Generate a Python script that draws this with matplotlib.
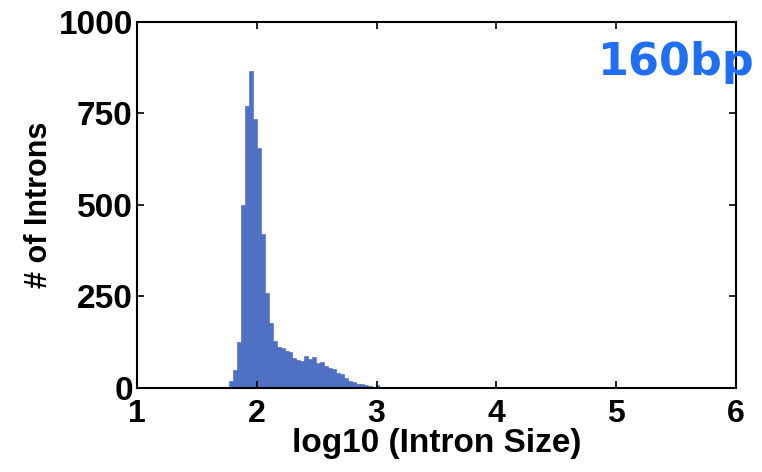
import numpy as np
import matplotlib
import matplotlib.pyplot as plt

matplotlib.use('Agg')

# histogram of log10 intron sizes (bin width ~0.033)
bin_left = [1.770, 1.803, 1.836, 1.869, 1.902, 1.935, 1.968, 2.001, 2.034, 2.067,
            2.100, 2.133, 2.166, 2.199, 2.232, 2.265, 2.298, 2.331, 2.364, 2.397,
            2.430, 2.463, 2.496, 2.529, 2.562, 2.595, 2.628, 2.661, 2.694, 2.727,
            2.760, 2.793, 2.826, 2.859, 2.892, 2.925, 2.958, 2.991, 3.024, 3.057]
counts = [18, 50, 125, 500, 770, 865, 735, 655, 420, 260,
          178, 128, 112, 110, 100, 98, 82, 76, 75, 88,
          80, 85, 68, 72, 60, 55, 52, 42, 38, 28,
          20, 16, 12, 10, 7, 5, 4, 8, 3, 2]
bin_width = 0.033

x_ticks = [1, 2, 3, 4, 5, 6]
y_ticks = [0, 250, 500, 750, 1000]

plt.rcParams['font.family'] = ['Liberation Sans', 'DejaVu Sans']

fig = plt.figure(figsize=(7.62, 4.72), dpi=100)
ax = fig.add_axes([0.1798, 0.178, 0.786, 0.7754])

ax.bar(bin_left, counts, width=bin_width, align='edge',
       color='#5072c6', edgecolor='#4262b8', linewidth=0.4)

ax.set_xlim(1, 6)
ax.set_ylim(0, 1000)
ax.set_xticks(x_ticks)
ax.set_yticks(y_ticks)
ax.tick_params(direction='in', top=True, right=True, length=5, width=1.2,
               labelsize=24)
ax.tick_params(axis='x', pad=8, labelsize=23)
ax.tick_params(axis='y', pad=3)
for lbl in ax.get_xticklabels() + ax.get_yticklabels():
    lbl.set_fontweight('bold')
for s in ax.spines.values():
    s.set_linewidth(1.5)

ax.set_xlabel('log10 (Intron Size)', fontsize=24, fontweight='bold', labelpad=-1)
ax.set_ylabel('# of Introns', fontsize=22, fontweight='bold', labelpad=3)

fig.text(0.785, 0.841, '160bp', fontsize=32, fontweight='bold',
         color='#1f6ff0', family='DejaVu Sans', zorder=10)

fig.savefig('out.png', dpi=100)
